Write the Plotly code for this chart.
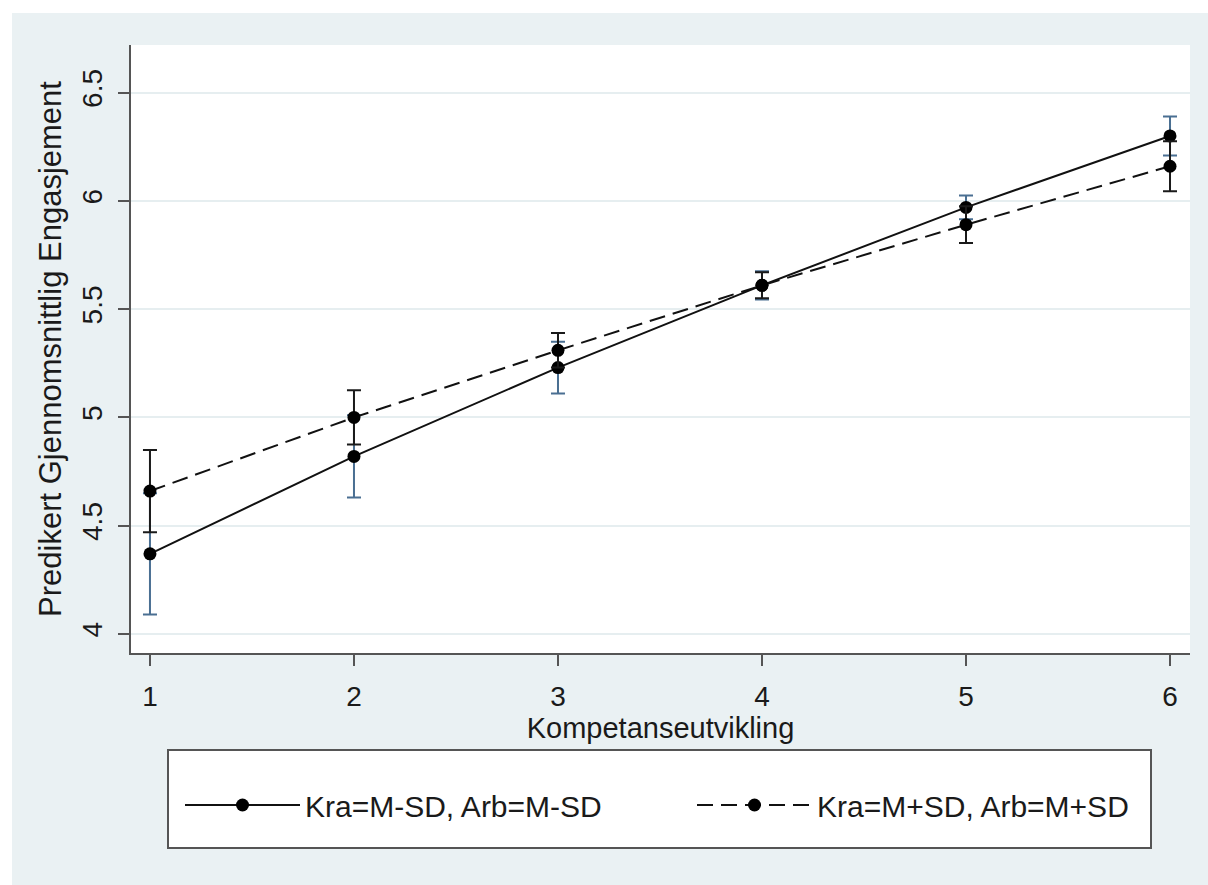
import plotly.graph_objects as go

x_vals = [1, 2, 3, 4, 5, 6]
low_name = "Kra=M-SD, Arb=M-SD"
high_name = "Kra=M+SD, Arb=M+SD"
low_y = [4.37, 4.82, 5.23, 5.61, 5.97, 6.30]
low_err = [0.28, 0.19, 0.12, 0.065, 0.055, 0.09]
high_y = [4.66, 5.00, 5.31, 5.61, 5.89, 6.16]
high_err = [0.19, 0.125, 0.08, 0.06, 0.085, 0.115]
y_ticks = [4, 4.5, 5, 5.5, 6, 6.5]
y_ticklabels = ["4", "4.5", "5", "5.5", "6", "6.5"]
x_title = "Kompetanseutvikling"
y_title = "Predikert Gjennomsnittlig Engasjement"

W, H = 1208, 885
L, R, T, B = 131, 18, 45, 232
pw, ph = W - L - R, H - T - B

def px(xp):
    return (xp - L) / pw

def py(yp):
    return (H - B - yp) / ph

FONT = "Liberation Sans, Arial, sans-serif"
BG = "#EAF1F3"
AX = "#555555"

fig = go.Figure()
fig.add_trace(go.Scatter(
    x=x_vals, y=low_y, name=low_name, mode="lines+markers", legend="legend",
    line=dict(color="#111111", width=2),
    marker=dict(color="#000000", size=13),
    error_y=dict(type="data", array=low_err, color="#4A6F92", thickness=2, width=7),
))
fig.add_trace(go.Scatter(
    x=x_vals, y=high_y, name=high_name, mode="lines+markers", legend="legend2",
    line=dict(color="#111111", width=2, dash="16px,8px"),
    marker=dict(color="#000000", size=13),
    error_y=dict(type="data", array=high_err, color="#1a1a1a", thickness=2, width=7),
))

shapes = [
    dict(type="rect", xref="paper", yref="paper", layer="below",
         x0=px(12), x1=px(W + 5), y0=py(H + 5), y1=py(13),
         fillcolor=BG, line=dict(width=0)),
    dict(type="rect", xref="paper", yref="paper", layer="below",
         x0=0, x1=1, y0=0, y1=1, fillcolor="white", line=dict(width=0)),
    dict(type="rect", xref="paper", yref="paper", layer="below",
         x0=px(168), x1=px(1151), y0=py(848), y1=py(750),
         fillcolor="white", line=dict(color=AX, width=2)),
]

leg_common = dict(
    orientation="h", xanchor="left", yanchor="middle", y=py(805),
    bgcolor="rgba(0,0,0,0)", borderwidth=0,
    font=dict(family=FONT, size=30, color="#1a1a1a"),
    itemwidth=115,
)

fig.update_layout(
    width=W, height=H,
    margin=dict(l=L, r=R, t=T, b=B, pad=0),
    paper_bgcolor="white",
    plot_bgcolor="rgba(0,0,0,0)",
    font=dict(family=FONT, size=28, color="#1a1a1a"),
    shapes=shapes,
    showlegend=True,
    legend=dict(x=px(180), **leg_common),
    legend2=dict(x=px(692), **leg_common),
    xaxis=dict(
        range=[0.907, 6.098], tickvals=x_vals, ticktext=[str(v) for v in x_vals],
        showgrid=False, zeroline=False,
        showline=True, linecolor=AX, linewidth=2,
        ticks="outside", ticklen=11, tickwidth=2, tickcolor=AX,
        ticklabelstandoff=6,
        tickfont=dict(size=28),
        title=dict(text=x_title, standoff=4, font=dict(size=29)),
    ),
    yaxis=dict(
        range=[3.912, 6.72], tickvals=y_ticks, ticktext=y_ticklabels,
        tickangle=-90,
        showgrid=True, gridcolor="#E6EEF0", gridwidth=2, zeroline=False,
        showline=True, linecolor=AX, linewidth=2,
        ticks="outside", ticklen=11, tickwidth=2, tickcolor=AX,
        ticklabelstandoff=5,
        tickfont=dict(size=28),
        title=dict(text=y_title, standoff=6, font=dict(size=31)),
    ),
)

fig.write_html("out.html", config={"displayModeBar": False},
               post_script="document.body.style.margin='0px';")
